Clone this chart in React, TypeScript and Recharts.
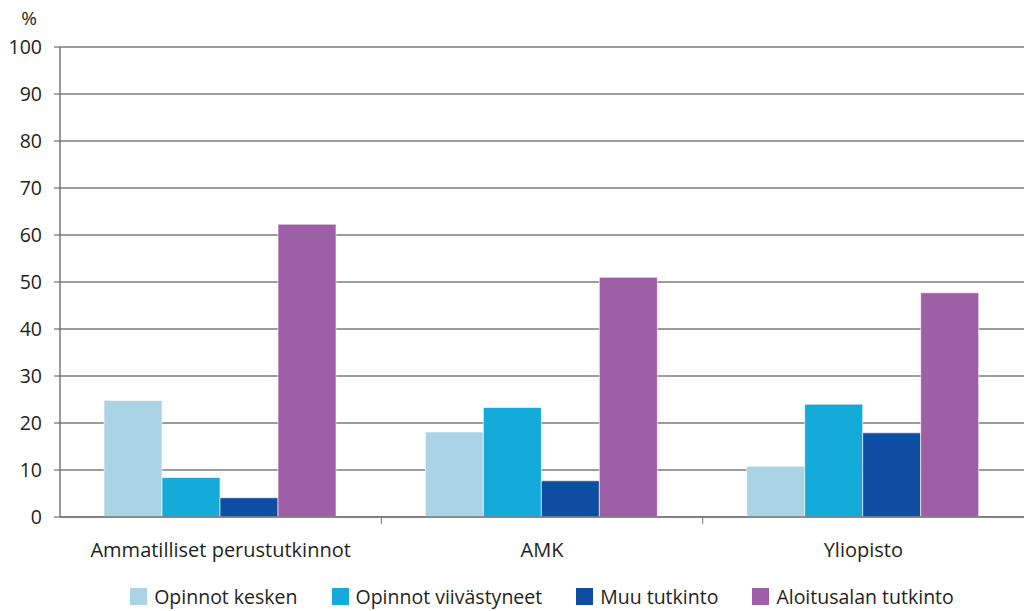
import React from "react";
import { BarChart, Bar, XAxis, YAxis, CartesianGrid, Legend } from "recharts";

const categories = ["Ammatilliset perustutkinnot", "AMK", "Yliopisto"];
const opinnotKesken = [24.8, 18.1, 10.8];
const opinnotViivastyneet = [8.4, 23.3, 24.0];
const muuTutkinto = [4.1, 7.7, 17.9];
const aloitusalanTutkinto = [62.3, 51.0, 47.7];
const yTicks = [0, 10, 20, 30, 40, 50, 60, 70, 80, 90, 100];

const series = [
  { key: "kesken", name: "Opinnot kesken", color: "#abd3e6" },
  { key: "viivastyneet", name: "Opinnot viivästyneet", color: "#14abdb" },
  { key: "muu", name: "Muu tutkinto", color: "#0d4ea2" },
  { key: "aloitus", name: "Aloitusalan tutkinto", color: "#9f5fa6" },
];

const data = categories.map((c, i) => ({
  name: c,
  kesken: opinnotKesken[i],
  viivastyneet: opinnotViivastyneet[i],
  muu: muuTutkinto[i],
  aloitus: aloitusalanTutkinto[i],
}));

const FONT = "'Open Sans', sans-serif";
const TEXT = "#231f20";
const W = 1024;
const H = 611;
const LEFT = 60;
const BAND = (W - LEFT) / categories.length;

// category label plus a separator tick at the band's right edge
const CategoryTick = (props: any) => {
  const { x, y, payload, index } = props;
  return (
    <g>
      {index < categories.length - 1 && (
        <line x1={x + BAND / 2} x2={x + BAND / 2} y1={y - 8} y2={y - 1} stroke="#777" strokeWidth={1} />
      )}
      <text x={x} y={y + 32} textAnchor="middle" fontSize={20} fill={TEXT} fontFamily={FONT}>
        {payload.value}
      </text>
    </g>
  );
};

// legend in series order, centred under the plot area
const LegendContent = () => (
  <div style={{ height: 30, paddingLeft: LEFT, display: "flex", justifyContent: "center", alignItems: "center", gap: 34, fontFamily: FONT, fontSize: 19.5, color: TEXT }}>
    {series.map((s) => (
      <div key={s.key} style={{ display: "flex", alignItems: "center", gap: 7 }}>
        <span style={{ display: "inline-block", width: 17, height: 17, background: s.color }} />
        <span>{s.name}</span>
      </div>
    ))}
  </div>
);

export default function App() {
  return (
    <div style={{ position: "absolute", left: 0, top: 0, width: W, height: H, background: "#fff" }}>
      <BarChart
        width={W}
        height={H}
        data={data}
        margin={{ top: 47, right: 0, left: 0, bottom: 0 }}
        barCategoryGap="13.7%"
        barGap={0}
      >
        <CartesianGrid vertical={false} stroke="#3a3a3a" strokeWidth={1.2} />
        <XAxis
          dataKey="name"
          tick={<CategoryTick />}
          tickLine={false}
          axisLine={{ stroke: "#777", strokeWidth: 1.5 }}
          height={64}
          interval={0}
        />
        <YAxis
          domain={[0, 100]}
          ticks={yTicks}
          width={LEFT}
          interval={0}
          tickSize={6}
          tickMargin={12}
          axisLine={{ stroke: "#777", strokeWidth: 1.5 }}
          tickLine={{ stroke: "#555" }}
          tick={{ fontSize: 19.5, fill: TEXT, fontFamily: FONT }}
          label={{ value: "%", position: "top", offset: 22, dx: -1, fontSize: 19, fill: TEXT, fontFamily: FONT }}
        />
        <Legend verticalAlign="bottom" content={<LegendContent />} />
        {series.map((s) => (
          <Bar
            key={s.key}
            dataKey={s.key}
            name={s.name}
            fill={s.color}
            stroke="#ffffff"
            strokeOpacity={0.6}
            strokeWidth={1}
            isAnimationActive={false}
          />
        ))}
      </BarChart>
    </div>
  );
}
